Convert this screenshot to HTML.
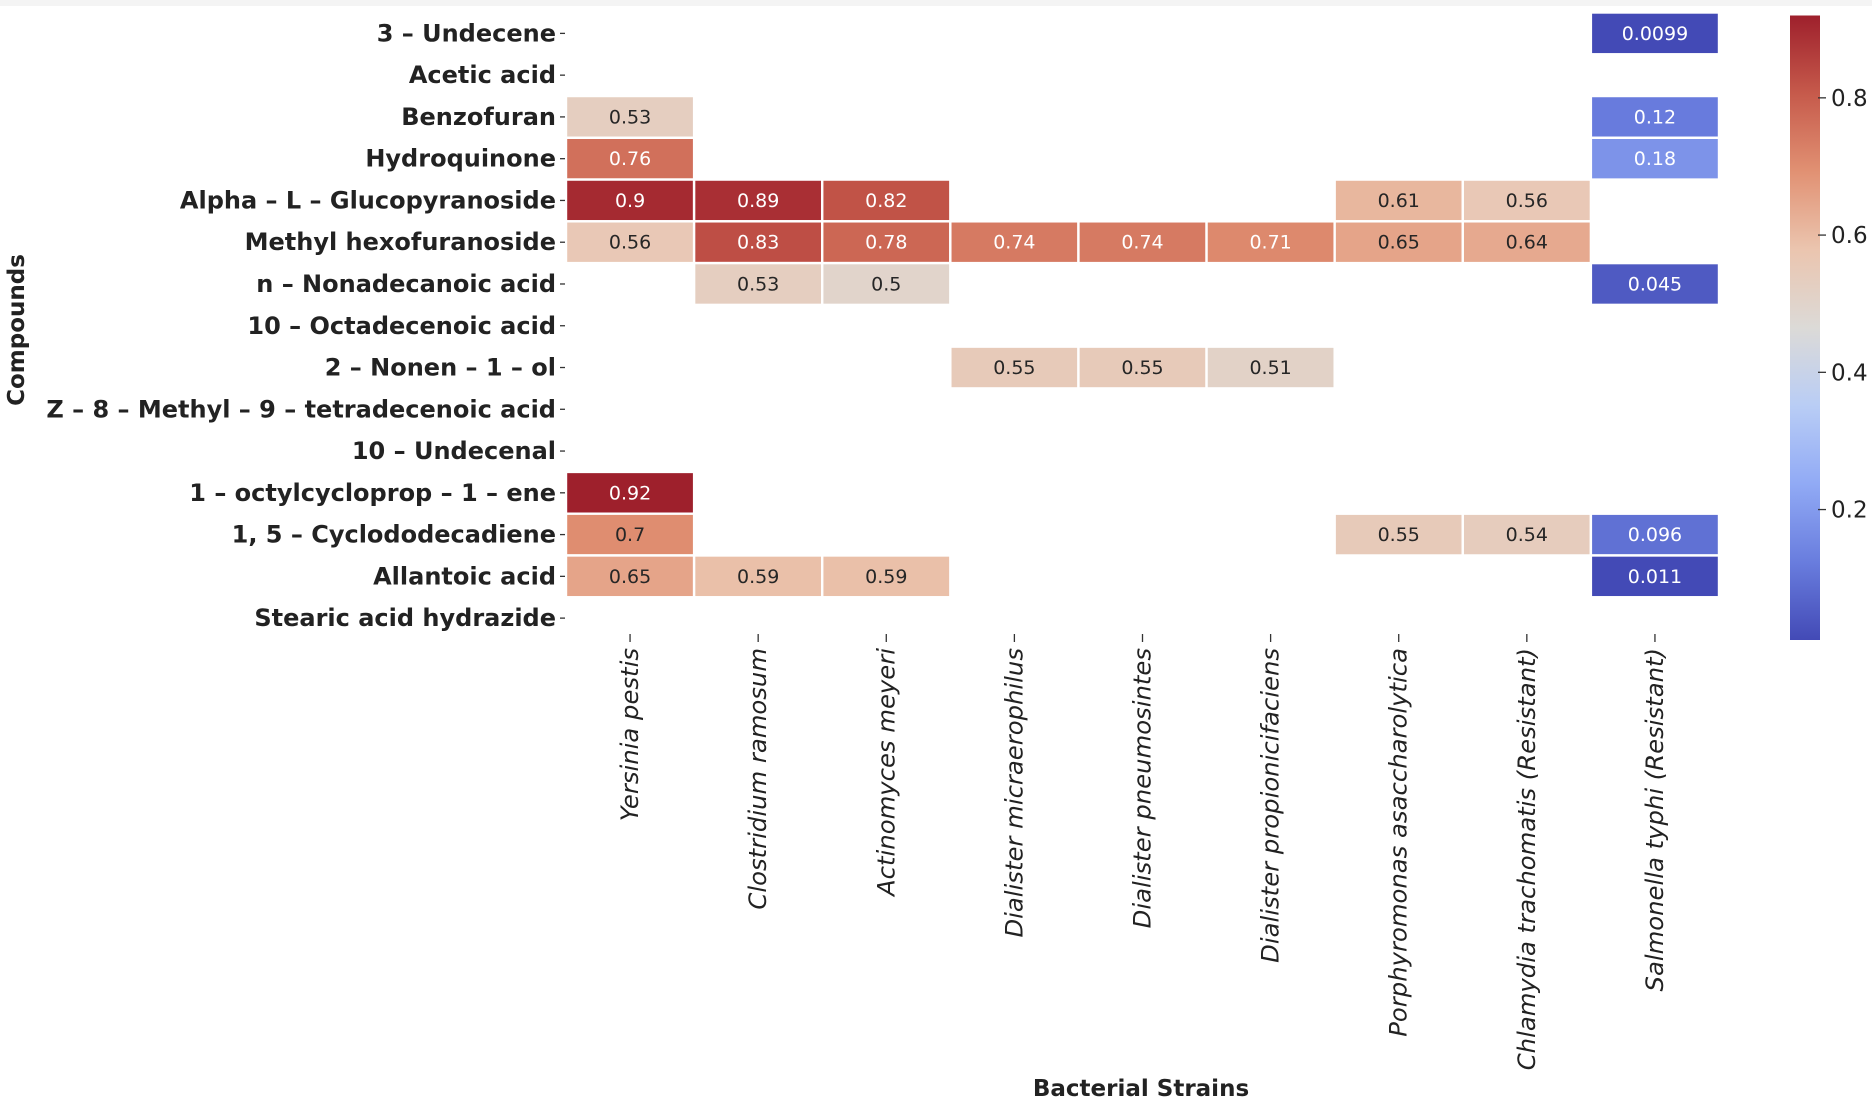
<!DOCTYPE html>
<html><head><meta charset="utf-8"><style>
html,body{margin:0;padding:0;background:#fff;}
svg{display:block;font-family:"DejaVu Sans","Liberation Sans",sans-serif;}
</style></head><body>
<svg id="chart" width="1872" height="1105" viewBox="0 0 1872 1105" xmlns="http://www.w3.org/2000/svg">
<rect x="0" y="0" width="1872" height="1105" fill="#fff"/>
<rect x="0" y="0" width="1872" height="6" fill="#f4f4f4"/>
<g id="cells"></g><g id="ylab"></g><g id="xlab"></g><g id="cbar"></g>
<text x="1141" y="1096" font-size="23" font-weight="bold" text-anchor="middle" fill="#222">Bacterial Strains</text>
<text transform="translate(24,330) rotate(-90)" font-size="23" font-weight="bold" text-anchor="middle" fill="#222">Compounds</text>
</svg>
<script>
const compounds = ["3 – Undecene","Acetic acid","Benzofuran","Hydroquinone","Alpha – L – Glucopyranoside","Methyl hexofuranoside","n – Nonadecanoic acid","10 – Octadecenoic acid","2 – Nonen – 1 – ol","Z – 8 – Methyl – 9 – tetradecenoic acid","10 – Undecenal","1 – octylcycloprop – 1 – ene","1, 5 – Cyclododecadiene","Allantoic acid","Stearic acid hydrazide"];
const strains = ["Yersinia pestis","Clostridium ramosum","Actinomyces meyeri","Dialister micraerophilus","Dialister pneumosintes","Dialister propionicifaciens","Porphyromonas asaccharolytica","Chlamydia trachomatis (Resistant)","Salmonella typhi (Resistant)"];
const yersinia = [null,null,0.53,0.76,0.9,0.56,null,null,null,null,null,0.92,0.7,0.65,null];
const clostridium = [null,null,null,null,0.89,0.83,0.53,null,null,null,null,null,null,0.59,null];
const actinomyces = [null,null,null,null,0.82,0.78,0.5,null,null,null,null,null,null,0.59,null];
const dMicra = [null,null,null,null,null,0.74,null,null,0.55,null,null,null,null,null,null];
const dPneumo = [null,null,null,null,null,0.74,null,null,0.55,null,null,null,null,null,null];
const dPropio = [null,null,null,null,null,0.71,null,null,0.51,null,null,null,null,null,null];
const porphyro = [null,null,null,null,0.61,0.65,null,null,null,null,null,null,0.55,null,null];
const chlamydia = [null,null,null,null,0.56,0.64,null,null,null,null,null,null,0.54,null,null];
const salmonella = [0.0099,null,0.12,0.18,null,null,0.045,null,null,null,null,null,0.096,0.011,null];
const series = [yersinia,clostridium,actinomyces,dMicra,dPneumo,dPropio,porphyro,chlamydia,salmonella];
const cbarTicks = [0.2,0.4,0.6,0.8];
const vmin = 0.0099, vmax = 0.92;

const NS="http://www.w3.org/2000/svg";
const L=566, R=1719, T=12.5, B=639;
const cw=(R-L)/strains.length, rh=(B-T)/compounds.length;
const xPos=i=>L+i*cw, yPos=j=>T+j*rh;
const stops=[[67,74,182],[105,125,222],[145,170,245],[185,205,245],[220,218,215],[235,197,175],[225,145,115],[198,90,75],[158,32,44]];
function cmap(v){let t=Math.max(0,Math.min(1,(v-vmin)/(vmax-vmin)))*(stops.length-1);let i=Math.min(stops.length-2,Math.floor(t)),f=t-i;const c=stops[i].map((a,k)=>a+(stops[i+1][k]-a)*f);return c;}
function mk(tag,attrs,parent){const e=document.createElementNS(NS,tag);for(const k in attrs)e.setAttribute(k,attrs[k]);parent.appendChild(e);return e;}
const gc=document.getElementById('cells'),gy=document.getElementById('ylab'),gx=document.getElementById('xlab'),gb=document.getElementById('cbar');
series.forEach((col,i)=>{col.forEach((v,j)=>{if(v===null)return;const c=cmap(v);
 const r=mk('rect',{x:xPos(i),y:yPos(j),width:cw,height:rh,fill:`rgb(${c.map(Math.round).join(',')})`,stroke:'#fff','stroke-width':2.4},gc);
 
 
 const t=mk('text',{x:xPos(i)+cw/2,y:yPos(j)+rh/2+6.5,'font-size':19,'text-anchor':'middle',fill:(v>0.7||v<0.3)?'#ffffff':'#262626'},gc);
 t.textContent=String(v);
 
 
});});
compounds.forEach((n,j)=>{const y=yPos(j)+rh/2;
 const t=mk('text',{x:556,y:y+8,'font-size':24,'font-weight':'bold','text-anchor':'end',fill:'#222'},gy);t.textContent=n;
 
 
 mk('line',{x1:560,x2:565,y1:y,y2:y,stroke:'#333','stroke-width':1.3},gy);
});
strains.forEach((n,i)=>{const x=xPos(i)+cw/2;
 mk('line',{x1:x,x2:x,y1:634,y2:642,stroke:'#333','stroke-width':1.3},gx);
 const t=mk('text',{transform:`translate(${x+8},${648}) rotate(-90)`,'font-size':24.3,'font-style':'italic','text-anchor':'end',fill:'#222'},gx);t.textContent=n;
 
 
});
const CX=1790,CW=30,CT=15.5,CB=640;
const defs=mk('defs',{},gb);const lg=mk('linearGradient',{id:'cg',x1:0,y1:1,x2:0,y2:0},defs);
stops.forEach((c,k)=>mk('stop',{offset:k/(stops.length-1),'stop-color':`rgb(${c.join(',')})`},lg));
const cb=mk('rect',{x:CX,y:CT,width:CW,height:CB-CT,fill:'url(#cg)'},gb);


const cy=v=>CB-(v-vmin)/(vmax-vmin)*(CB-CT);
cbarTicks.forEach(v=>{const y=cy(v);mk('line',{x1:CX+CW-2,x2:CX+CW+6,y1:y,y2:y,stroke:'#333','stroke-width':1.3},gb);
 const t=mk('text',{x:CX+CW+11,y:y+8,'font-size':23,fill:'#222'},gb);t.textContent=v.toFixed(1);
 
 
});
</script>
</body></html>
